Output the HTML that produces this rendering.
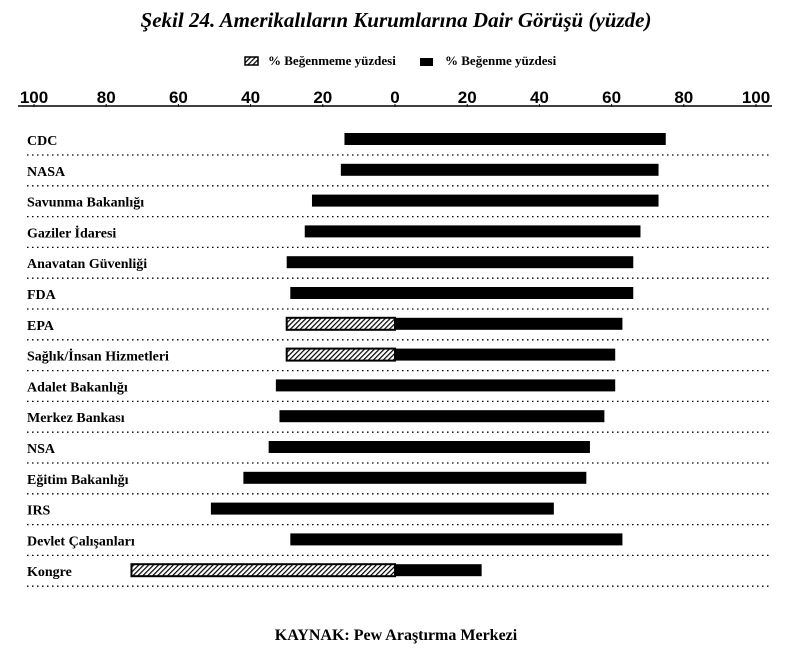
<!DOCTYPE html>
<html><head><meta charset="utf-8"><style>
body{margin:0;background:#fff;width:792px;height:651px;overflow:hidden;font-family:"Liberation Serif",serif;}
svg text{font-family:"Liberation Serif",serif;}
</style></head><body>
<svg width="792" height="651">
<defs><pattern id="hatch" width="3.5" height="3.5" patternUnits="userSpaceOnUse" patternTransform="rotate(45)"><rect width="3.5" height="3.5" fill="#fff"/><rect width="1.2" height="3.5" fill="#000"/></pattern></defs>
<text x="396" y="27" text-anchor="middle" font-size="21" font-style="italic" font-weight="bold">Şekil 24. Amerikalıların Kurumlarına Dair Görüşü (yüzde)</text>
<g>
<rect x="245" y="57" width="13" height="8" fill="url(#hatch)" stroke="#000" stroke-width="1.5"/>
<text x="268" y="65" font-size="13" font-weight="bold">% Beğenmeme yüzdesi</text>
<rect x="420" y="58" width="13" height="8" fill="#000"/>
<text x="445" y="65" font-size="13" font-weight="bold">% Beğenme yüzdesi</text>
</g>
<line x1="18" x2="772" y1="106" y2="106" stroke="#000" stroke-width="1.5"/>
<g id="ticks"></g>
<g id="rows"></g>
<text x="396" y="640" text-anchor="middle" font-size="16" font-weight="bold">KAYNAK: Pew Araştırma Merkezi</text>
</svg>
<script>
const categories=["CDC","NASA","Savunma Bakanlığı","Gaziler İdaresi","Anavatan Güvenliği","FDA","EPA","Sağlık/İnsan Hizmetleri","Adalet Bakanlığı","Merkez Bankası","NSA","Eğitim Bakanlığı","IRS","Devlet Çalışanları","Kongre"];
const unfavorable=[14,15,23,25,30,29,30,30,33,32,35,42,51,29,73];
const favorable=[75,73,73,68,66,66,63,61,61,58,54,53,44,63,24];
const hatched=[false,false,false,false,false,false,true,true,false,false,false,false,false,false,true];
const tickValues=[-100,-80,-60,-40,-20,0,20,40,60,80,100];
const NS="http://www.w3.org/2000/svg";
const x=v=>395+v*3.61;
const rowY=i=>139+i*30.8;
const tg=document.getElementById('ticks'),rg=document.getElementById('rows');
tickValues.forEach(v=>{
 const t=document.createElementNS(NS,'text');
 
 
 t.setAttribute('x',x(v));t.setAttribute('y',103);t.setAttribute('text-anchor','middle');
 t.setAttribute('font-size','17');t.setAttribute('font-weight','bold');t.setAttribute('style','font-family:"Liberation Sans",sans-serif');
 t.textContent=Math.abs(v);tg.appendChild(t);
 const l=document.createElementNS(NS,'line');
 
 
 l.setAttribute('x1',x(v));l.setAttribute('x2',x(v));l.setAttribute('y1',104);l.setAttribute('y2',107);l.setAttribute('stroke','#000');
 tg.appendChild(l);
});
categories.forEach((c,i)=>{
 const y=rowY(i);
 const t=document.createElementNS(NS,'text');
 
 
 t.setAttribute('x',27);t.setAttribute('y',y+6);t.setAttribute('font-size','14');t.setAttribute('font-weight','bold');
 t.textContent=c;rg.appendChild(t);
 const u=document.createElementNS(NS,'rect');
 
 
 u.setAttribute('x',x(-unfavorable[i]));u.setAttribute('y',y-6);u.setAttribute('width',x(0)-x(-unfavorable[i]));u.setAttribute('height',12);
 u.setAttribute('fill',hatched[i]?'url(#hatch)':'#000');
 if(hatched[i]){u.setAttribute('stroke','#000');u.setAttribute('stroke-width','2');}
 rg.appendChild(u);
 const f=document.createElementNS(NS,'rect');
 
 
 f.setAttribute('x',x(0));f.setAttribute('y',y-6);f.setAttribute('width',x(favorable[i])-x(0));f.setAttribute('height',12);f.setAttribute('fill','#000');
 rg.appendChild(f);
 const d=document.createElementNS(NS,'line');
 
 
 d.setAttribute('x1',27);d.setAttribute('x2',772);d.setAttribute('y1',y+16);d.setAttribute('y2',y+16);
 d.setAttribute('stroke','#000');d.setAttribute('stroke-width','1.3');d.setAttribute('stroke-dasharray','1.5 3.5');
 rg.appendChild(d);
});
</script>
</body></html>
